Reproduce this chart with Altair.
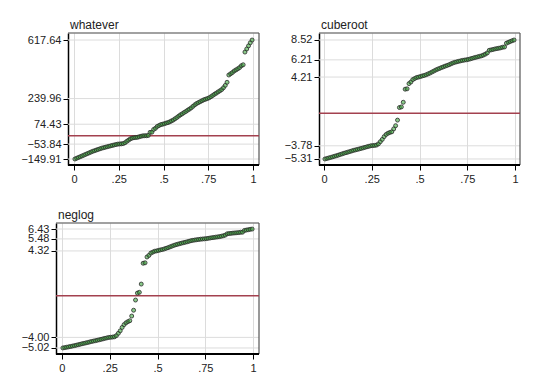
import altair as alt
import pandas as pd

# "whatever" variable, sorted values
whatever = [
    -149.91, -145, -140, -135, -130, -125, -120, -115, -110, -105,
    -100, -96, -92, -88, -84, -80, -77, -74, -71, -68,
    -65, -62, -59, -56.5, -53.84, -53, -52, -50.5, -45, -36,
    -28, -20, -15, -12.5, -11, -10, -6, -3, -0.5, 0.3,
    0.4, 2.1, 22, 23, 41, 48, 60, 66, 72, 74.43,
    78, 82, 85, 90, 96, 102, 110, 118, 127, 135,
    142, 150, 157, 165, 172, 180, 190, 200, 208, 214,
    220, 226, 232, 236, 239.96, 245, 252, 260, 268, 275,
    283, 290, 298, 310, 325, 345, 392, 400, 408, 418,
    425, 432, 440, 452, 458, 540, 560, 580, 600, 617.64,
]
frac = [(i + 0.5) / len(whatever) for i in range(len(whatever))]

panel_names = ["whatever", "cuberoot", "neglog"]
yticks_whatever = [-149.91, -53.84, 74.43, 239.96, 617.64]
yticks_cuberoot = [-5.31, -3.78, 4.21, 6.21, 8.52]
yticks_neglog = [-5.02, -4.00, 4.32, 5.48, 6.43]
xticks = [0, 0.25, 0.5, 0.75, 1]
ref_value = [0]

df = pd.DataFrame({"frac": frac, "whatever": whatever})

FONT = "Liberation Sans"
GRID = "#dcdcdc"
FS = 11


def panel(field, yticks, ydomain, view_x, frame_x, w, h, extent, inset):
    yscale = alt.Scale(domain=ydomain, nice=False, zero=False)
    xscale = alt.Scale(domain=view_x, nice=False, zero=False)
    yaxis = alt.Axis(values=yticks, format=".2f", title=None, grid=False,
                     domainColor="black", domainWidth=1.5, offset=-inset,
                     tickColor="black", tickSize=5, labelPadding=2,
                     labelFontSize=FS, labelColor="#222", labelFont=FONT,
                     labelOverlap=False, labelBound=False,
                     minExtent=extent, maxExtent=extent)
    xaxis = alt.Axis(values=xticks, title=None, grid=True, gridColor=GRID,
                     domain=False, tickColor="black",
                     tickSize=5, labelPadding=3, labelFontSize=FS,
                     labelColor="#222", labelFont=FONT, labelOverlap=False,
                     labelExpr="datum.value == 0 ? '0' : datum.value == 1 ? '1' : replace(toString(datum.value), '0.', '.')")

    fl, fr = frame_x
    lo, hi = ydomain
    rows = [dict(x1=fl, x2=fr, y1=t, y2=t, c=GRID, sw=1) for t in yticks]
    rows += [
        dict(x1=fl, x2=fr, y1=hi, y2=hi, c="#444444", sw=1.2),   # top edge
        dict(x1=fr, x2=fr, y1=lo, y2=hi, c="#555555", sw=1.2),   # right edge
        dict(x1=fl, x2=fr, y1=lo, y2=lo, c="#000000", sw=2),     # bottom axis line
    ]
    frame = alt.Chart(pd.DataFrame(rows)).mark_rule().encode(
        x=alt.X("x1:Q", scale=xscale, axis=xaxis), x2="x2:Q",
        y=alt.Y("y1:Q", scale=yscale, axis=yaxis), y2="y2:Q",
        color=alt.Color("c:N", scale=None),
        strokeWidth=alt.StrokeWidth("sw:Q", scale=None),
    )

    rule = alt.Chart(pd.DataFrame({"r": ref_value, "a": [fl], "b": [fr]})).mark_rule(
        color="#a3414f", strokeWidth=1.5).encode(
        x=alt.X("a:Q", scale=xscale, axis=xaxis), x2="b:Q",
        y=alt.Y("r:Q", scale=yscale, axis=yaxis))

    pts = alt.Chart(df).transform_calculate(
        cuberoot="datum.whatever < 0 ? -pow(-datum.whatever, 1/3) : pow(datum.whatever, 1/3)",
        neglog="datum.whatever < 0 ? -log(1 - datum.whatever) : log(1 + datum.whatever)",
    ).mark_point(filled=True, shape="circle", size=16, fill="#3aa63a",
                 fillOpacity=0.6, stroke="#2b2b2b", strokeWidth=0.8).encode(
        x=alt.X("frac:Q", scale=xscale, axis=xaxis),
        y=alt.Y(f"{field}:Q", scale=yscale, axis=yaxis),
    )
    return alt.layer(frame, rule, pts).properties(
        width=w, height=h,
        view=alt.ViewBackground(stroke=None),
        title=alt.TitleParams(field, anchor="start", frame="group", fontSize=FS + 1,
                              fontWeight="normal", font=FONT, color="#222",
                              offset=0, dx=2 + inset),
    )


# whatever: view spans 56..259 px, frame starts 12 px inside (at 68)
p1 = panel("whatever", yticks_whatever, [-188.6, 663], [-0.1006, 1.0335],
           [-0.0335, 1.0335], 203, 132, 36, 12)
p2 = panel("cuberoot", yticks_cuberoot, [-6.01, 9.33], [-0.026, 1.026],
           [-0.026, 1.026], 201, 132, 40, 0)
p3 = panel("neglog", yticks_neglog, [-5.60, 7.01], [-0.031, 1.031],
           [-0.031, 1.031], 203, 131, 48, 0)

chart = alt.vconcat(
    alt.hconcat(p1, p2, spacing=19),
    alt.hconcat(p3),
    spacing=25,
).properties(padding={"left": 0, "top": 11, "right": 0, "bottom": 0}).configure(
    background="white")

chart.save("out.html", embed_options={"renderer": "svg", "actions": False})
